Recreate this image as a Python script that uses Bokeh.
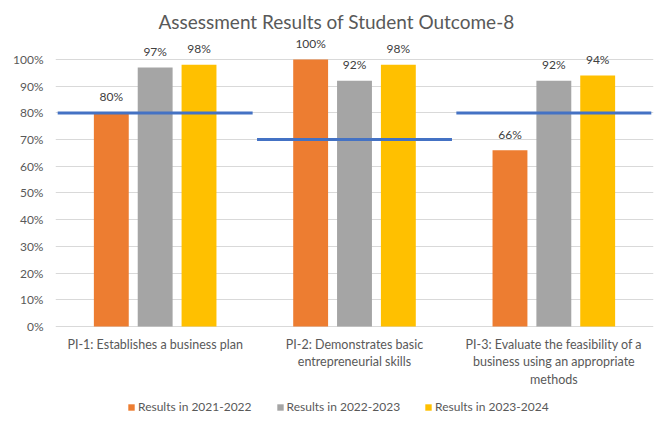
from bokeh.plotting import figure
from bokeh.models import (ColumnDataSource, FactorRange, Range1d, FixedTicker,
                          NumeralTickFormatter, Legend, LegendItem, Label)
from bokeh.transform import dodge
from bokeh.core.properties import value
from bokeh.embed import file_html
from bokeh.resources import INLINE

# ---------------- data ----------------
chart_title = "Assessment Results of Student Outcome-8"
categories = ["PI-1", "PI-2", "PI-3"]
category_labels = [
    "PI-1: Establishes a business plan",
    "PI-2: Demonstrates basic\nentrepreneurial skills",
    "PI-3: Evaluate the feasibility of a\nbusiness using an appropriate\nmethods",
]
series_names = ["Results in 2021-2022", "Results in 2022-2023", "Results in 2023-2024"]
results_2021_2022 = [0.80, 1.00, 0.66]
results_2022_2023 = [0.97, 0.92, 0.92]
results_2023_2024 = [0.98, 0.98, 0.94]
targets = [0.80, 0.70, 0.80]
y_ticks = [0.0, 0.1, 0.2, 0.3, 0.4, 0.5, 0.6, 0.7, 0.8, 0.9, 1.0]

# ---------------- style ----------------
FONT = "Lato"
TEXT = "#595959"
COLORS = ["#ED7D31", "#A5A5A5", "#FFC000"]
TARGET_COLOR = "#4472C4"
OFFSETS = [-0.22, 0.0, 0.22]
BAR_W = 0.175

src = ColumnDataSource(dict(
    cat=categories,
    label=category_labels,
    s0=results_2021_2022,
    s1=results_2022_2023,
    s2=results_2023_2024,
    t0=["{:.0%}".format(v) for v in results_2021_2022],
    t1=["{:.0%}".format(v) for v in results_2022_2023],
    t2=["{:.0%}".format(v) for v in results_2023_2024],
    target=targets,
    zero=[0.0] * len(categories),
))

p = figure(width=672, height=430, output_backend="svg", toolbar_location=None,
           x_range=FactorRange(*categories, range_padding=0),
           y_range=Range1d(-0.3895, 1.1835),
           x_axis_location=None,
           min_border_left=55, min_border_right=19,
           min_border_top=10, min_border_bottom=0)
p.outline_line_color = None
p.background_fill_color = "white"
p.border_fill_color = "white"

# y axis
p.yaxis.ticker = FixedTicker(ticks=y_ticks)
p.yaxis.formatter = NumeralTickFormatter(format="0%")
p.yaxis.axis_line_color = None
p.yaxis.major_tick_line_color = None
p.yaxis.minor_tick_line_color = None
p.yaxis.major_tick_in = 0
p.yaxis.major_tick_out = 0
p.yaxis.major_label_standoff = 12
p.yaxis.major_label_text_font = FONT
p.yaxis.major_label_text_font_size = "12px"
p.yaxis.major_label_text_color = TEXT

p.xgrid.visible = False
p.ygrid.ticker = FixedTicker(ticks=y_ticks)
p.ygrid.grid_line_color = "#D9D9D9"
p.ygrid.grid_line_width = 1

# bars
renderers = []
for i, (field, color) in enumerate(zip(["s0", "s1", "s2"], COLORS)):
    r = p.vbar(x=dodge("cat", OFFSETS[i], range=p.x_range), top=field, bottom=0,
               width=BAR_W, source=src, fill_color=color, line_color=None)
    renderers.append(r)

# target lines
p.rect(x="cat", y="target", width=0.978, height=3, height_units="screen",
       source=src, fill_color=TARGET_COLOR, line_color=None)

# data labels
for i, (field, tfield) in enumerate(zip(["s0", "s1", "s2"], ["t0", "t1", "t2"])):
    p.text(x=dodge("cat", OFFSETS[i], range=p.x_range), y=field, text=tfield,
           source=src, text_align="center", text_baseline="middle", y_offset=-16,
           text_font=value(FONT), text_font_size="12px", text_color="#404040")

# category labels
p.text(x="cat", y="zero", text="label", source=src, text_align="center",
       text_baseline="top", y_offset=10, text_line_height=1.17,
       text_font=value(FONT), text_font_size="12.5px", text_color=TEXT)

# title
p.add_layout(Label(x=1.5, y=1.142, x_offset=-18, text=chart_title,
                   text_align="center", text_baseline="middle",
                   text_font=FONT, text_font_size="19px", text_color=TEXT))

# legend
legend = Legend(items=[LegendItem(label=n, renderers=[r]) for n, r in zip(series_names, renderers)],
                orientation="horizontal", location=(72, 16),
                border_line_color=None, background_fill_alpha=0,
                glyph_width=8, glyph_height=8, label_height=12,
                label_standoff=3, spacing=24, padding=0, margin=0,
                label_text_font=FONT, label_text_font_size="12px",
                label_text_color=TEXT)
p.add_layout(legend)

open("out.html", "w").write(file_html(p, INLINE))
